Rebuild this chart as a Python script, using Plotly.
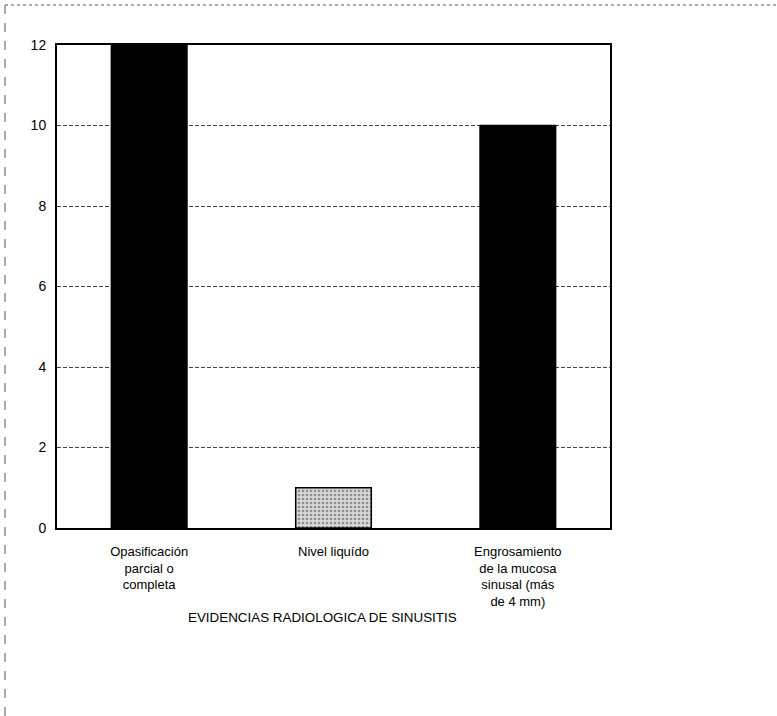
import plotly.graph_objects as go

categories = ["Opasificación<br>parcial o<br>completa", "Nivel liquído",
              "Engrosamiento<br>de la mucosa<br>sinusal (más<br>de 4 mm)"]
values = [12, 1, 10]
bar_colors = ["#000000", "#d8d8d8", "#000000"]
patterns = ["", ".", ""]
x_title = "EVIDENCIAS RADIOLOGICA DE SINUSITIS"
y_ticks = [0, 2, 4, 6, 8, 10, 12]

W, H = 777, 716
L, R, T, B = 57, 167, 45, 188
PW, PH = W - L - R, H - T - B

fig = go.Figure()
fig.add_trace(go.Bar(
    x=categories, y=values,
    marker=dict(color=bar_colors,
                line=dict(color="#000000", width=1.5),
                pattern=dict(shape=patterns, fgcolor="#555555", bgcolor="#e0e0e0", size=4, solidity=0.35)),
    width=0.41,
))

fig.update_layout(
    width=W, height=H,
    margin=dict(l=L, r=R, t=T, b=B),
    paper_bgcolor="white", plot_bgcolor="white",
    font=dict(family="Liberation Sans, Arial, sans-serif", size=13, color="#111111"),
    showlegend=False,
    xaxis=dict(
        showline=True, linecolor="#000000", linewidth=2, mirror=True,
        ticks="", tickfont=dict(size=13, color="#000000"),
        ticklabelstandoff=10,
    ),
    yaxis=dict(
        range=[0, 12], tickvals=y_ticks,
        showline=True, linecolor="#000000", linewidth=2, mirror=True,
        showgrid=True, gridcolor="#444444", griddash="4px,2px", gridwidth=1,
        zeroline=False, ticks="", ticklen=0,
        ticklabelstandoff=6,
        tickfont=dict(size=14, color="#000000"),
    ),
)

# x-axis title (placed as in the original, slightly left of centre)
fig.add_annotation(text=x_title, xref="paper", yref="paper",
                   x=(322 - L) / PW, y=(H - B - 617) / PH,
                   xanchor="center", yanchor="middle", showarrow=False,
                   font=dict(size=13.4, color="#000000"))

# outer frame (top and left dashed edges)
fig.add_shape(type="line", xref="paper", yref="paper",
              x0=(5 - L) / PW, x1=(W - L) / PW, y0=(H - B - 5) / PH, y1=(H - B - 5) / PH,
              line=dict(color="#555555", width=1, dash="dot"))
fig.add_shape(type="line", xref="paper", yref="paper",
              x0=(5 - L) / PW, x1=(5 - L) / PW, y0=-B / PH, y1=(H - B - 5) / PH,
              line=dict(color="#555555", width=1, dash="dash"))

fig.write_html("out.html", config={"displayModeBar": False},
               post_script="document.body.style.margin='0';")
